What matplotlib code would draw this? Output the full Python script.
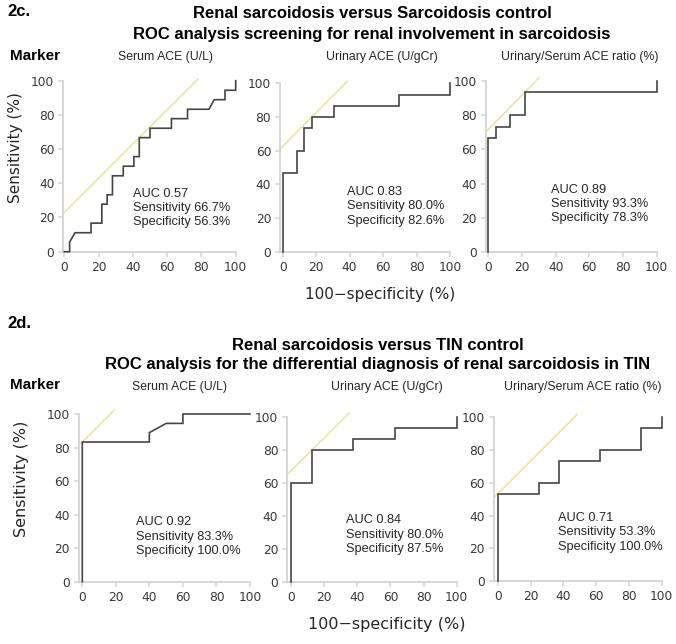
# Imports
import matplotlib
matplotlib.use("Agg")
from matplotlib import pyplot as plt

# Data - 2c. Renal sarcoidosis versus Sarcoidosis control
markers = ["Serum ACE (U/L)", "Urinary ACE (U/gCr)", "Urinary/Serum ACE ratio (%)"]

sarc_serum_fpr = [0, 3.1, 3.1, 6.25, 15.6, 15.6, 21.9, 21.9, 25, 25, 28.1, 28.1, 34.4, 34.4,
                  40.6, 40.6, 43.75, 43.75, 50, 50, 62.5, 62.5, 71.9, 71.9, 84.4, 87.5,
                  93.75, 93.75, 100, 100]
sarc_serum_tpr = [0, 0, 5.6, 11.1, 11.1, 16.7, 16.7, 27.8, 27.8, 33.3, 33.3, 44.4, 44.4, 50,
                  50, 55.6, 55.6, 66.7, 66.7, 72.2, 72.2, 77.8, 77.8, 83.3, 83.3, 88.9,
                  88.9, 94.4, 94.4, 100]
sarc_urine_fpr = [0, 0, 8.7, 8.7, 13.0, 13.0, 17.4, 17.4, 30.4, 30.4, 69.6, 69.6, 100, 100]
sarc_urine_tpr = [0, 46.7, 46.7, 60, 60, 73.3, 73.3, 80, 80, 86.7, 86.7, 93.3, 93.3, 100]
sarc_ratio_fpr = [0, 0, 4.3, 4.3, 13.0, 13.0, 21.7, 21.7, 100, 100]
sarc_ratio_tpr = [0, 66.7, 66.7, 73.3, 73.3, 80, 80, 93.3, 93.3, 100]

sarc_auc = [0.57, 0.83, 0.89]
sarc_sens = [66.7, 80.0, 93.3]
sarc_spec = [56.3, 82.6, 78.3]

# Data - 2d. Renal sarcoidosis versus TIN control
tin_serum_fpr = [0, 0, 40, 40, 50, 60, 60, 100]
tin_serum_tpr = [0, 83.3, 83.3, 88.9, 94.4, 94.4, 100, 100]
tin_urine_fpr = [0, 0, 12.5, 12.5, 37.5, 37.5, 62.5, 62.5, 100, 100]
tin_urine_tpr = [0, 60, 60, 80, 80, 86.7, 86.7, 93.3, 93.3, 100]
tin_ratio_fpr = [0, 0, 25, 25, 37.5, 37.5, 62.5, 62.5, 87.5, 87.5, 100, 100]
tin_ratio_tpr = [0, 53.3, 53.3, 60, 60, 73.3, 73.3, 80, 80, 93.3, 93.3, 100]

tin_auc = [0.92, 0.84, 0.71]
tin_sens = [83.3, 80.0, 53.3]
tin_spec = [100.0, 87.5, 100.0]

ticks = [0, 20, 40, 60, 80, 100]

# Figure
W, H = 676, 644
fig = plt.figure(figsize=(W / 100, H / 100), dpi=100)

CURVE = "#454545"
YELLOW = "#ede58c"
SPINE = "#d4d4d4"
TXT = "#262626"


def place(px0, px100, py0, py100, xa):
    # pixel positions of x=0, x=100, y=0, y=100 -> axes rect in figure fraction
    left = px0 + xa / 100 * (px100 - px0)
    return [left / W, 1 - py0 / H, (px100 - left) / W, (py0 - py100) / H]


def panel(rect, xa, fpr, tpr, sens, spec, auc, line_x, txt_xy):
    ax = fig.add_axes(rect)
    ax.set_xlim(xa, 100)
    ax.set_ylim(0, 100)
    ax.plot(fpr, tpr, color=CURVE, lw=1.2, solid_joinstyle="miter", clip_on=False, zorder=3)
    # Youden tangent line through the cut-off point
    cut = 100 - spec
    off = sens - cut
    ax.plot(line_x, [x + off for x in line_x], color=YELLOW, lw=1.1, clip_on=False, zorder=2)
    for s in ["top", "right"]:
        ax.spines[s].set_visible(False)
    for s in ["left", "bottom"]:
        ax.spines[s].set_color(SPINE)
        ax.spines[s].set_linewidth(1.3)
    ax.set_xticks(ticks)
    ax.set_yticks(ticks)
    ax.tick_params(colors=SPINE, labelcolor="#383838", labelsize=8.8, length=3.5,
                   width=1.1, pad=3)
    ax.text(txt_xy[0], txt_xy[1],
            "AUC {:.2f}\nSensitivity {:.1f}%\nSpecificity {:.1f}%".format(auc, sens, spec),
            family="Liberation Sans", fontsize=9.2, color=TXT, va="top", ha="left",
            linespacing=1.25)
    return ax


# 2c row
top = [
    (64.3, 235.7, 251.7, 80.7, -0.5, sarc_serum_fpr, sarc_serum_tpr, [0, 78], (39.9, 37.5)),
    (282.7, 450, 251.7, 83.3, -1.5, sarc_urine_fpr, sarc_urine_tpr, [-1, 38.5], (38.6, 39)),
    (488.3, 656.7, 252.3, 80.7, -1.5, sarc_ratio_fpr, sarc_ratio_tpr, [-1, 30], (37.2, 40)),
]
for i, (px0, px100, py0, py100, xa, fpr, tpr, lx, txy) in enumerate(top):
    panel(place(px0, px100, py0, py100, xa), xa, fpr, tpr, sarc_sens[i], sarc_spec[i],
          sarc_auc[i], lx, txy)

# 2d row
bottom = [
    (82.3, 250, 581.7, 414, -2, tin_serum_fpr, tin_serum_tpr, [-1, 19], (32, 39)),
    (291, 456.7, 581.7, 417.3, -2.2, tin_urine_fpr, tin_urine_tpr, [-2.2, 35], (33, 41)),
    (497.7, 661.7, 581, 417.3, -2.2, tin_ratio_fpr, tin_ratio_tpr, [-2.2, 48.5], (37, 42)),
]
for i, (px0, px100, py0, py100, xa, fpr, tpr, lx, txy) in enumerate(bottom):
    panel(place(px0, px100, py0, py100, xa), xa, fpr, tpr, tin_sens[i], tin_spec[i],
          tin_auc[i], lx, txy)


# Texts (pixel coords)
def ftext(x, y, s, **kw):
    fig.text(x / W, 1 - y / H, s, **kw)


bold = dict(family="Liberation Sans", weight="bold", color="black")
ftext(7, 12, "2c.", fontsize=12, va="center", ha="left", **bold)
ftext(372, 13, "Renal sarcoidosis versus Sarcoidosis control", fontsize=12,
      va="center", ha="center", **bold)
ftext(372, 34, "ROC analysis screening for renal involvement in sarcoidosis", fontsize=12,
      va="center", ha="center", **bold)
ftext(7, 323, "2d.", fontsize=12, va="center", ha="left", **bold)
ftext(378, 345, "Renal sarcoidosis versus TIN control", fontsize=12,
      va="center", ha="center", **bold)
ftext(378, 365, "ROC analysis for the differential diagnosis of renal sarcoidosis in TIN",
      fontsize=12, va="center", ha="center", **bold)

ftext(10, 56, "Marker", fontsize=11, va="center", ha="left", **bold)
ftext(10, 385, "Marker", fontsize=11, va="center", ha="left", **bold)

sub = dict(family="Liberation Sans", fontsize=8.8, color=TXT, va="center", ha="center")
for x, name in zip([165, 382, 580], markers):
    ftext(x, 57, name, **sub)
for x, name in zip([179.5, 387, 583], markers):
    ftext(x, 387, name, **sub)

lab = dict(family="DejaVu Sans", color=TXT, va="center", ha="center")
ftext(16, 148, "Sensitivity (%)", fontsize=11, rotation=90, **lab)
ftext(21.5, 479, "Sensitivity (%)", fontsize=11.5, rotation=90, **lab)
ftext(380, 295, "100\u2212specificity (%)", fontsize=11, **lab)
ftext(387, 625, "100\u2212specificity (%)", fontsize=11.5, **lab)

plt.savefig("out.png", dpi=100)
